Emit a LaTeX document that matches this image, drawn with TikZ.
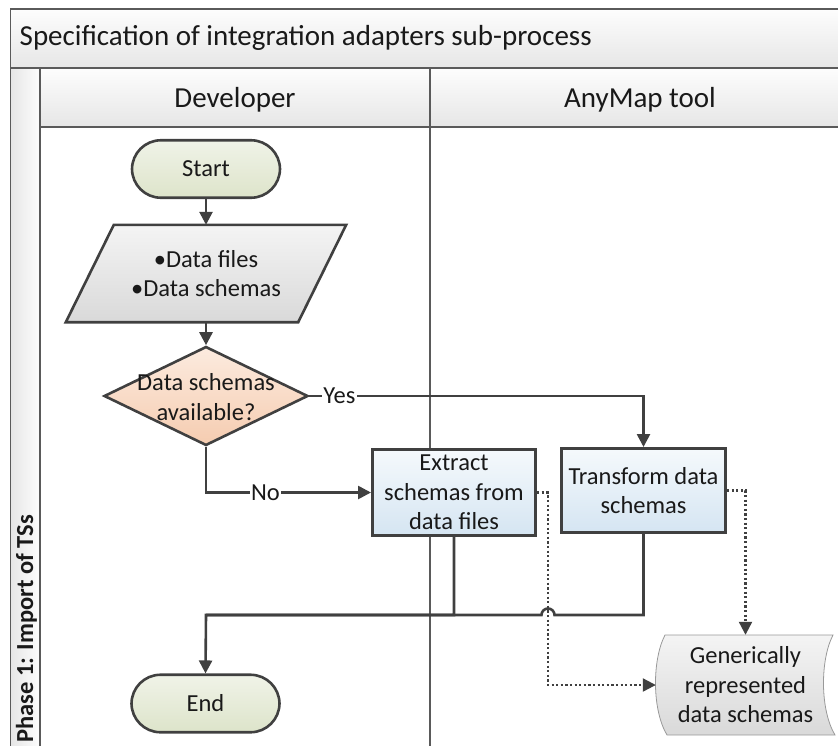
\documentclass[tikz,border=0pt]{standalone}
\usepackage{fontspec}
\setmainfont{Carlito}
\usetikzlibrary{arrows.meta,shapes.geometric,calc}
\pgfdeclarelayer{bg}
\pgfsetlayers{bg,main}

\definecolor{ink}{HTML}{404040}
\definecolor{frameline}{HTML}{5A5A5A}
\definecolor{termtop}{HTML}{F0F3E8}
\definecolor{termbot}{HTML}{DDE4CA}
\definecolor{iotop}{HTML}{F4F4F4}
\definecolor{iobot}{HTML}{D9D9D9}
\definecolor{dectop}{HTML}{FCEBDF}
\definecolor{decbot}{HTML}{F5CCB0}
\definecolor{proctop}{HTML}{F5F9FC}
\definecolor{procbot}{HTML}{D5E5F2}
\definecolor{bandtop}{HTML}{FDFDFD}
\definecolor{bandbot}{HTML}{E6E6E6}

\newcommand\txtbody{\fontsize{24.5}{29.5}\selectfont}
\newcommand\txthead{\fontsize{29}{34}\selectfont}

\tikzset{
  base/.style={font=\txtbody, text=black!90, align=center, inner sep=0pt},
  term/.style={base, draw=ink, line width=2.6pt, rounded corners=29pt,
    minimum width=148pt, minimum height=57.5pt, top color=termtop, bottom color=termbot},
  decide/.style={base, diamond, draw=ink, line width=2.6pt,
    minimum width=204pt, minimum height=99pt, top color=dectop, bottom color=decbot},
  proc/.style={base, draw=ink, line width=2.6pt, top color=proctop, bottom color=procbot},
  holder/.style={base},
  flow/.style={draw=ink, line width=2.6pt, -{Triangle[length=13pt,width=13pt]}},
  flowline/.style={draw=ink, line width=2.6pt},
  dotflow/.style={draw=ink, line width=2.2pt, dash pattern=on 2.2pt off 2.4pt,
    -{Triangle[length=13pt,width=13pt]}},
  lbl/.style={font=\txtbody, fill=white, inner sep=1.5pt, text=black!90},
  lane/.style={draw=frameline, line width=1.6pt},
  hdr/.style={font=\txthead, text=black!90, inner sep=0pt},
}

\begin{document}
\begin{tikzpicture}[x=1pt,y=-1pt]
\useasboundingbox (0,0) rectangle (838,745);

% swimlane frame
\path[top color=bandtop, bottom color=bandbot] (10.5,9) rectangle (860,68);
\path[top color=bandtop, bottom color=bandbot] (40,68) rectangle (860,127);
\path[left color=bandbot, right color=bandtop] (10.5,68) rectangle (40,760);
\draw[lane] (860,9) -- (10.5,9) -- (10.5,760);
\draw[lane] (10.5,68) -- (860,68);
\draw[lane] (40,127) -- (860,127);
\draw[lane] (40,68) -- (40,760);
\draw[lane] (430,68) -- (430,760);

\node[hdr, anchor=base west] (title) at (19.5,45.5) {Specification of integration adapters sub-process};
\node[hdr, anchor=base] (devhead) at (235,107) {Developer};
\node[hdr, anchor=base] (toolhead) at (640,107) {AnyMap tool};
\node[font=\bfseries\txtbody, text=black!90, inner sep=0pt, rotate=90, anchor=west]
  (phase) at (26.5,743) {Phase 1: Import of TSs};

% flow elements
\node[term] (startn) at (206,169) {Start};
\node[holder, minimum width=280pt, minimum height=97pt] (para) at (206,273.5)
  {\fontsize{24.5}{31.5}\selectfont •Data files\\•Data schemas};
\node[decide] (dia) at (206,396)
  {\smash{\makebox[0pt]{\raisebox{-10pt}{\begin{tabular}[c]{@{}c@{}}Data schemas\\available?\end{tabular}}}}};
\node[proc, minimum width=163.4pt, minimum height=86.4pt] (extract) at (454,492.5)
  {Extract\\schemas from\\data files};
\node[proc, minimum width=164.4pt, minimum height=84.4pt] (transf) at (643.5,490.5)
  {Transform data\\schemas};
\node[term] (endn) at (205.5,703.5) {End};
\node[holder, minimum width=179pt, minimum height=100pt] (store) at (745.5,685)
  {\fontsize{24.5}{28}\selectfont Generically\\represented\\data schemas};

\begin{pgfonlayer}{bg}
  \draw[draw=ink, line width=2.6pt, top color=iotop, bottom color=iobot, line join=miter]
    (para.south west) -- ($(para.north west)+(48,0)$) -- (para.north east)
    -- ($(para.south east)+(-48,0)$) -- cycle;
  \draw[draw=gray!80, line width=0.8pt, top color=iotop, bottom color=iobot]
    (665,635) -- (833,635) .. controls (820,660) and (820,710) .. (835,735)
    -- (667,735) .. controls (652,710) and (652,660) .. (665,635) -- cycle;
\end{pgfonlayer}

\coordinate (mrg) at (206,615);

% connectors
\draw[flow] (startn) -- (para);
\draw[flow] (para) -- (dia);
\draw[flow] (dia.east) -| node[lbl, pos=0.045] {Yes} (transf.north);
\draw[flow] (dia.south) |- node[lbl, pos=0.68] {No} (extract.west);
\draw[flowline] (transf.south) -- (transf.south |- mrg) -- (554.5,615)
  arc[start angle=0, end angle=-180, radius=6.5] -- (mrg);
\draw[flow] (extract.south) |- (mrg) -- (endn.north);
\draw[dotflow] (extract.east) -- ++(11,0) |- (store.west);
\draw[dotflow] (transf.east) -| (store.north);
\end{tikzpicture}
\end{document}
